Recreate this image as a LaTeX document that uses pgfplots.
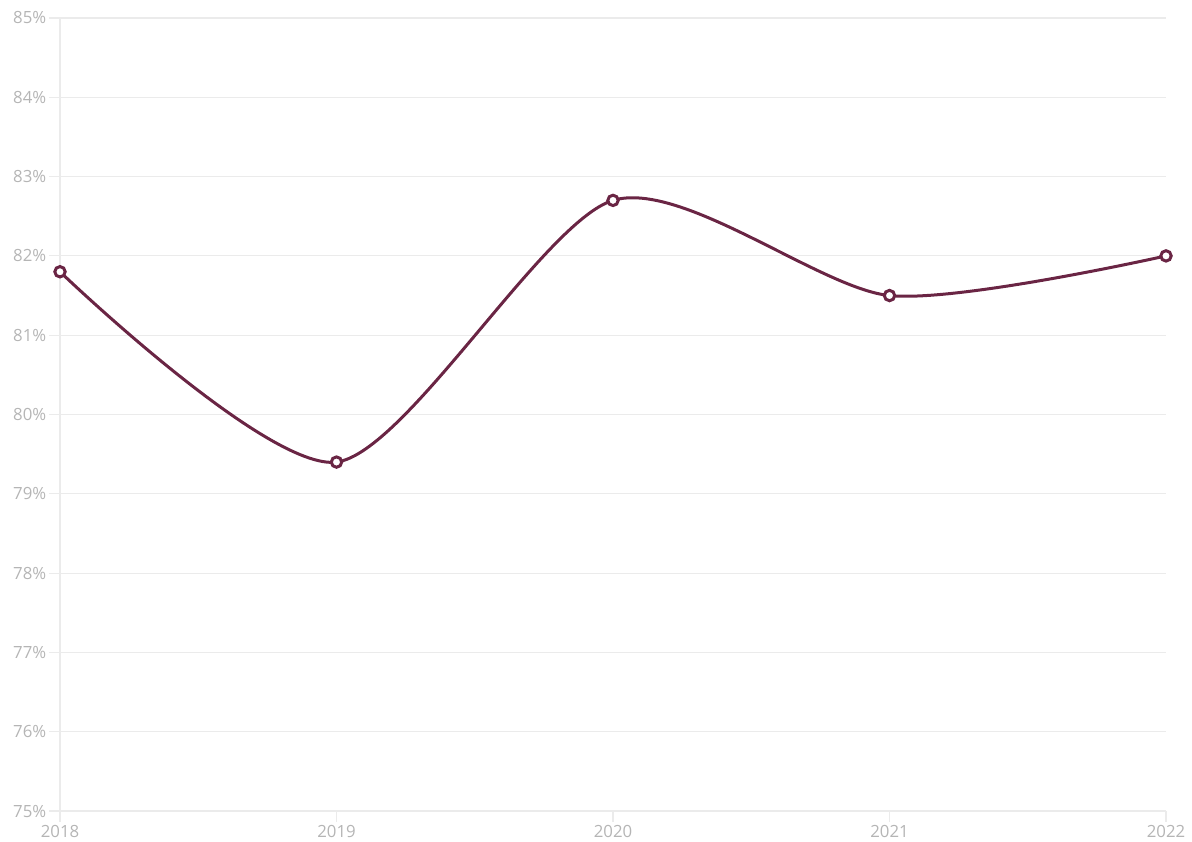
\documentclass[border=0pt]{standalone}
\usepackage{pgfplots}
\pgfplotsset{compat=1.18}
\usepackage{fontspec}
\setmainfont{Open Sans}
\definecolor{linec}{HTML}{6A2544}
\definecolor{gridc}{HTML}{EBEBEB}
\definecolor{labc}{HTML}{B5B5B5}
\begin{document}
\begin{tikzpicture}
\begin{axis}[
  name=ax,
  scale only axis,
  width=553pt, height=396.5pt,
  xmin=2018, xmax=2022, ymin=75, ymax=85,
  xtick={2018,2019,2020,2021,2022},
  ytick={75,76,...,85},
  yticklabel={\pgfmathprintnumber{\tick}\%},
  /pgf/number format/assume math mode=true,
  x tick label style={/pgf/number format/1000 sep={}},
  axis x line*=bottom, axis y line*=left,
  axis line style={gridc, line width=0.6pt},
  ymajorgrids, grid style={gridc, line width=0.6pt},
  major tick length=5.5pt,
  tick style={gridc, line width=0.6pt},
  tick align=outside,
  ticklabel style={font=\fontsize{8.4}{10}\selectfont, text=labc},
  yticklabel style={inner xsep=1.2pt},
  xticklabel style={inner ysep=1.5pt},
  clip=false,
]
\addplot[linec, line width=1.5pt, smooth, tension=0.45,
  mark=*, mark size=2.6pt, mark options={fill=white, draw=linec, line width=1.5pt}]
  coordinates {(2018,81.8) (2019,79.4) (2020,82.7) (2021,81.5) (2022,82.0)};
\end{axis}
\pgfresetboundingbox
\path ([shift={(-30pt,-15pt)}]ax.south west) rectangle ([shift={(13pt,9pt)}]ax.north east);
\end{tikzpicture}
\end{document}
